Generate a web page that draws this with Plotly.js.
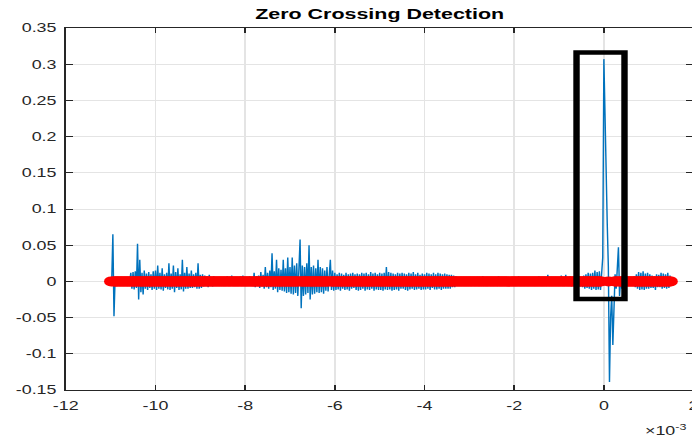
<!DOCTYPE html>
<html><head><meta charset="utf-8">
<script src="https://cdn.plot.ly/plotly-3.0.1.min.js"></script>
<style>
html,body{margin:0;padding:0;overflow:hidden;background:#fff;width:692px;height:441px}
#wrap{width:692px;height:441px;overflow:hidden;position:relative}
#chart{width:490px;height:441px;transform:scaleX(1.43);transform-origin:0 0}
</style></head><body><div id="wrap"><div id="chart"></div></div>
<script>
// sampled signal (time in units of 1e-3), sample start and spacing
const tStart = -11.0;
const tStep = 0.025;
const signal = [
  -0.002, 0.002, 0.065, -0.048, 0.003, -0.002, 0.002, -0.003, 0.002, -0.002, 0.003, -0.002, 0.002, -0.003, 0.002, -0.002, 0.003, -0.002, 0.012, -0.010,
  0.013, -0.011, 0.014, -0.009, 0.052, -0.025, 0.030, -0.015, 0.012, -0.018, 0.015, -0.010, 0.011, -0.012, 0.013, -0.009, 0.010, -0.012, 0.014, -0.010,
  0.015, -0.012, 0.022, -0.010, 0.012, -0.011, 0.018, -0.013, 0.010, -0.009, 0.012, -0.011, 0.025, -0.012, 0.011, -0.010, 0.022, -0.015, 0.013, -0.009,
  0.018, -0.012, 0.010, -0.011, 0.030, -0.014, 0.012, -0.010, 0.020, -0.010, 0.011, -0.009, 0.015, -0.009, 0.010, -0.008, 0.012, -0.010, 0.025, -0.010,
  0.009, -0.009, 0.010, -0.007, 0.008, -0.006, 0.007, -0.008, 0.009, -0.006, 0.006, -0.007, 0.007, -0.005, 0.006, -0.006, 0.005, -0.005, 0.006, -0.004,
  0.006, -0.005, 0.005, -0.006, 0.007, -0.005, 0.005, -0.005, 0.008, -0.006, 0.005, -0.005, 0.006, -0.004, 0.005, -0.006, 0.007, -0.005, 0.008, -0.005,
  0.006, -0.005, 0.005, -0.006, 0.007, -0.005, 0.006, -0.006, 0.012, -0.008, 0.007, -0.006, 0.008, -0.009, 0.013, -0.007, 0.009, -0.010, 0.020, -0.008,
  0.012, -0.010, 0.015, -0.008, 0.039, -0.012, 0.014, -0.010, 0.030, -0.015, 0.018, -0.012, 0.016, -0.013, 0.030, -0.014, 0.018, -0.016, 0.033, -0.015,
  0.020, -0.017, 0.033, -0.018, 0.022, -0.016, 0.025, -0.020, 0.018, 0.058, -0.037, 0.022, -0.020, 0.020, -0.018, 0.025, -0.016, 0.050, -0.025, 0.020,
  -0.018, 0.022, -0.017, 0.018, -0.015, 0.030, -0.016, 0.020, -0.015, 0.018, -0.017, 0.015, -0.013, 0.020, -0.014, 0.016, 0.030, -0.012, 0.015, -0.013,
  0.012, -0.012, 0.010, -0.011, 0.012, -0.013, 0.011, -0.010, 0.009, -0.012, 0.012, -0.011, 0.010, -0.013, 0.011, -0.010, 0.012, -0.009, 0.010, -0.012,
  0.011, -0.013, 0.010, -0.012, 0.012, -0.010, 0.011, -0.013, 0.012, -0.011, 0.010, -0.012, 0.013, -0.010, 0.011, -0.013, 0.012, -0.011, 0.010, -0.012,
  0.012, -0.012, 0.011, -0.013, 0.012, -0.011, 0.020, -0.012, 0.013, -0.011, 0.012, -0.013, 0.011, -0.012, 0.010, -0.011, 0.012, -0.013, 0.011, -0.010,
  0.012, -0.010, 0.011, -0.012, 0.010, -0.013, 0.012, -0.011, 0.011, -0.010, 0.013, -0.012, 0.010, -0.011, 0.012, -0.010, 0.009, -0.012, 0.011, -0.011,
  0.010, -0.011, 0.012, -0.010, 0.011, -0.012, 0.010, -0.009, 0.012, -0.011, 0.010, -0.011, 0.012, -0.010, 0.011, -0.012, 0.010, -0.010, 0.011, -0.010,
  0.010, -0.010, 0.009, -0.010, 0.009, -0.008, 0.008, -0.008, 0.007, -0.006, 0.006, -0.005, 0.005, -0.004, 0.005, -0.004, 0.004, -0.004, 0.005, -0.004,
  0.005, -0.004, 0.004, -0.006, 0.006, -0.004, 0.005, -0.005, 0.004, -0.004, 0.006, -0.005, 0.007, -0.004, 0.005, -0.004, 0.004, -0.006, 0.006, -0.004,
  0.005, -0.005, 0.004, -0.006, 0.006, -0.004, 0.007, -0.005, 0.004, -0.005, 0.005, -0.004, 0.006, -0.005, 0.004, -0.006, 0.005, -0.006, 0.004, -0.005,
  0.006, -0.004, 0.005, -0.005, 0.007, -0.005, 0.004, -0.006, 0.005, -0.004, 0.005, -0.005, 0.004, -0.005, 0.006, -0.004, 0.005, -0.005, 0.004, -0.005,
  0.006, -0.005, 0.007, -0.005, 0.006, -0.004, 0.005, -0.005, 0.006, -0.005, 0.009, -0.005, 0.006, -0.004, 0.005, -0.005, 0.006, -0.005, 0.005, -0.006,
  0.005, -0.006, 0.008, -0.005, 0.006, -0.005, 0.009, -0.006, 0.006, -0.005, 0.007, -0.007, 0.006, -0.006, 0.008, -0.006, 0.007, -0.006, 0.007, -0.007,
  0.006, -0.008, 0.008, -0.010, 0.010, -0.009, 0.012, -0.010, 0.011, -0.012, 0.012, -0.010, 0.015, -0.012, 0.013, -0.011, 0.014, -0.012, 0.020, 0.033,
  0.307, 0.200, 0.120, 0.080, 0.020, -0.139, -0.050, -0.020, -0.088, -0.030, 0.010, -0.010, 0.020, 0.047, -0.020, 0.005, -0.010, 0.008, -0.006, 0.005,
  -0.005, 0.005, -0.004, 0.005, -0.006, 0.006, -0.005, 0.007, -0.008, 0.010, -0.010, 0.013, -0.012, 0.012, -0.011, 0.014, -0.012, 0.011, -0.010, 0.012,
  -0.010, 0.010, -0.009, 0.008, -0.009, 0.007, -0.012, 0.010, -0.008, 0.009, -0.008, 0.012, -0.010, 0.011, -0.009, 0.010, -0.010, 0.012, -0.009, 0.008,
  -0.006
];
const xTickVals = [-12, -10, -8, -6, -4, -2, 0, 2];
const xTickText = ['-12', '-10', '-8', '-6', '-4', '-2', '0', '2'];
const yTickVals = [-0.15, -0.1, -0.05, 0, 0.05, 0.1, 0.15, 0.2, 0.25, 0.3, 0.35];
const yTickText = ['-0.15', '-0.1', '-0.05', '0', '0.05', '0.1', '0.15', '0.2', '0.25', '0.3', '0.35'];
const highlightBox = {x0: -0.61, x1: 0.46, y0: -0.0243, y1: 0.316};

const t = signal.map((_, i) => tStart + i * tStep);
// zero crossings detected by linear interpolation between samples of opposite sign
const zcX = [], zcY = [];
for (let i = 0; i < signal.length - 1; i++) {
  const a = signal[i], b = signal[i + 1];
  if (a * b < 0) {
    zcX.push(t[i] + tStep * a / (a - b));
    zcY.push(0);
  }
}

const font = 'Liberation Sans, Arial, Helvetica, sans-serif';
const axisCommon = {
  ticks: 'inside', ticklen: 5, tickcolor: '#262626', tickwidth: 1,
  showline: true, linecolor: '#262626', linewidth: 1, mirror: 'ticks',
  showgrid: true, gridcolor: '#e4e4e4', gridwidth: 1, zeroline: false,
  tickfont: {family: font, size: 12.5, color: '#262626'}, tickmode: 'array'
};
const data = [
  {x: t, y: signal, type: 'scatter', mode: 'lines',
   line: {color: 'rgb(0,114,189)', width: 1}, hoverinfo: 'skip'},
  {x: zcX, y: zcY, type: 'scatter', mode: 'markers',
   marker: {color: 'rgb(255,0,0)', size: 10, line: {width: 0}}, hoverinfo: 'skip'}
];
const layout = {
  width: 490, height: 441,
  margin: {l: 46, r: 5, t: 28, b: 51},
  paper_bgcolor: '#ffffff', plot_bgcolor: '#ffffff',
  showlegend: false,
  title: {text: 'Zero Crossing Detection', x: 0.5, xref: 'paper', xanchor: 'center',
          y: 0.968, yref: 'container', yanchor: 'middle',
          font: {family: font, size: 15, color: '#000000', weight: 'bold'}},
  xaxis: Object.assign({}, axisCommon, {range: [-12, 2], tickvals: xTickVals, ticktext: xTickText, ticklabelstandoff: 4}),
  yaxis: Object.assign({}, axisCommon, {range: [-0.15, 0.35], tickvals: yTickVals, ticktext: yTickText, ticklabelstandoff: 3}),
  shapes: [{type: 'rect', xref: 'x', yref: 'y', x0: highlightBox.x0, x1: highlightBox.x1,
            y0: highlightBox.y0, y1: highlightBox.y1, line: {color: '#000000', width: 4.5},
            fillcolor: 'rgba(0,0,0,0)', layer: 'above'}],
  annotations: [{text: '×10<sup>-3</sup>', xref: 'paper', yref: 'paper', x: 0.917, y: -0.11,
                 xanchor: 'left', yanchor: 'middle', showarrow: false,
                 font: {family: font, size: 12.5, color: '#262626'}}]
};
Plotly.newPlot('chart', data, layout, {displayModeBar: false, staticPlot: true});
</script>
</body></html>
